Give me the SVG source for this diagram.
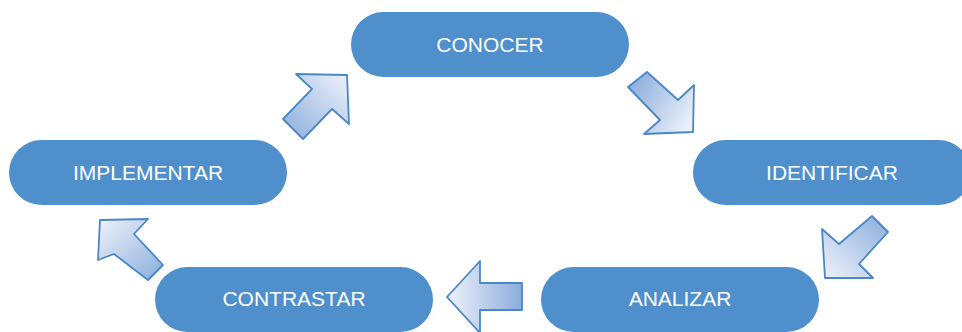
<svg xmlns="http://www.w3.org/2000/svg" width="962" height="332" viewBox="0 0 962 332">
<style>
.pill{fill:#4e8fcc;}
.lbl{font-family:"Liberation Sans",Arial,sans-serif;font-size:21px;fill:#ffffff;text-anchor:middle;}
.arr{stroke:#4a87c6;stroke-width:1.8;stroke-linejoin:round;}
</style>
<defs>
<linearGradient id="g1" x1="0" y1="1" x2="1" y2="0"><stop offset="0" stop-color="#8aaddc"/><stop offset="1" stop-color="#eef2fb"/></linearGradient>
<linearGradient id="g2" x1="0" y1="0.2" x2="1" y2="0.8"><stop offset="0" stop-color="#8aaddc"/><stop offset="1" stop-color="#eef2fb"/></linearGradient>
<linearGradient id="g3" x1="1" y1="0" x2="0" y2="1"><stop offset="0" stop-color="#8aaddc"/><stop offset="1" stop-color="#eef2fb"/></linearGradient>
<linearGradient id="g4" x1="1" y1="0.5" x2="0" y2="0.5"><stop offset="0" stop-color="#8aaddc"/><stop offset="1" stop-color="#eef2fb"/></linearGradient>
<linearGradient id="g5" x1="1" y1="1" x2="0" y2="0"><stop offset="0" stop-color="#8aaddc"/><stop offset="1" stop-color="#eef2fb"/></linearGradient>
</defs>
<rect width="962" height="332" fill="#ffffff"/>
<g id="connectors">
<polygon class="arr" fill="url(#g1)" points="347,75 349,124 332,109 303,139 283,119 312,89 296,74"/>
<polygon class="arr" fill="url(#g2)" points="647,72 678,100 694,85 693,132 644,134 660,120 628,87"/>
<polygon class="arr" fill="url(#g3)" points="872,216 888,232 859,264 873,278 825,278 822,229 839,244"/>
<polygon class="arr" fill="url(#g4)" points="447,297 480,261 480,283 522,283 522,310 480,310 480,333"/>
<polygon class="arr" fill="url(#g5)" points="100,220 148,219 134,234 163,265 148,280 114,254 98,260"/>
</g>
<g id="conocer"><rect class="pill" x="351" y="12" width="278" height="65" rx="32.5"/><text class="lbl" x="490" y="51.5">CONOCER</text></g>
<g id="identificar"><rect class="pill" x="693" y="140" width="278" height="65" rx="32.5"/><text class="lbl" x="832" y="179.5">IDENTIFICAR</text></g>
<g id="analizar"><rect class="pill" x="541" y="267" width="278" height="65" rx="32.5"/><text class="lbl" x="680" y="305.5">ANALIZAR</text></g>
<g id="contrastar"><rect class="pill" x="155" y="267" width="278" height="65" rx="32.5"/><text class="lbl" x="294" y="305.5">CONTRASTAR</text></g>
<g id="implementar"><rect class="pill" x="9" y="140" width="278" height="65" rx="32.5"/><text class="lbl" x="148" y="179.5">IMPLEMENTAR</text></g>
</svg>
